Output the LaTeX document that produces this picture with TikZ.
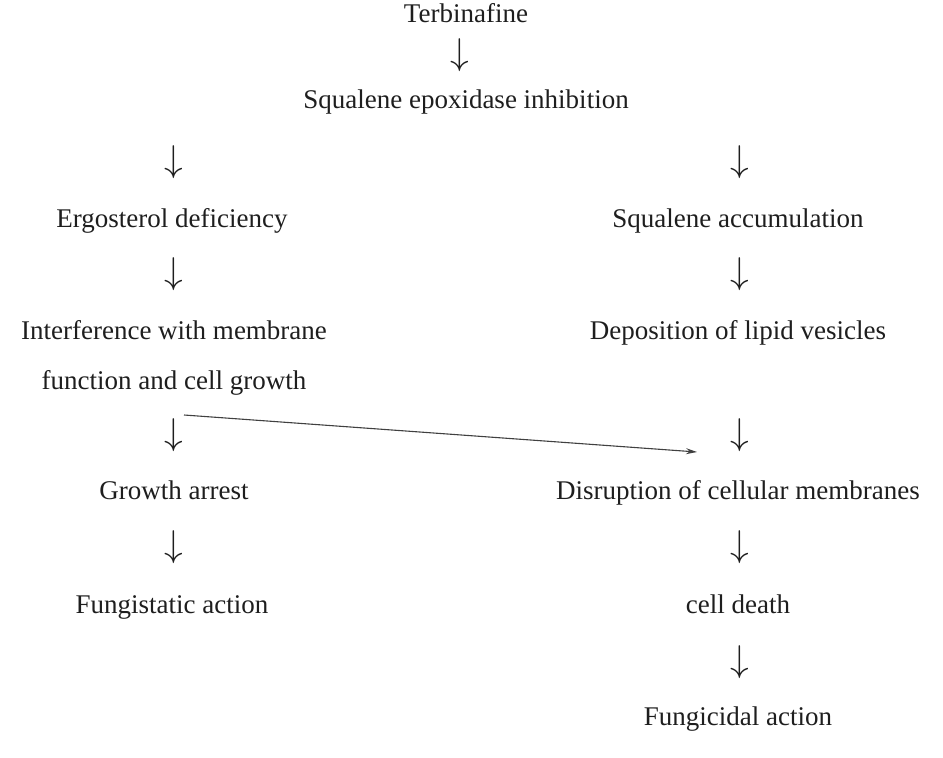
\documentclass[tikz,border=0pt]{standalone}
\usepackage{fontspec}
\setmainfont{Liberation Serif}
\usetikzlibrary{arrows.meta}
\definecolor{ink}{HTML}{1E1E1E}
\newcommand{\bigdown}{\scalebox{1.5}{\fontsize{24}{26}\selectfont$\downarrow$}}
\begin{document}
\begin{tikzpicture}[x=1pt,y=-1pt,
  lbl/.style={anchor=base, inner sep=0pt, font=\fontsize{27}{30}\selectfont, text=ink},
  darr/.style={inner sep=0pt, text=ink},
  link/.style={draw=ink!85, line width=1.1pt, -{Stealth[length=11pt,width=6pt]}}]
\useasboundingbox (0,0) rectangle (943,758);
\node[lbl] (terb) at (466,22) {Terbinafine};
\node[darr] (a1) at (460,55) {\bigdown};
\node[lbl] (sei) at (466,108) {Squalene epoxidase inhibition};
\node[darr] (aL1) at (174,162) {\bigdown};
\node[darr] (aR1) at (740,162) {\bigdown};
\node[lbl] (ergo) at (172,227) {Ergosterol deficiency};
\node[lbl] (sqacc) at (738,227) {Squalene accumulation};
\node[darr] (aL2) at (174,274) {\bigdown};
\node[darr] (aR2) at (740,274) {\bigdown};
\node[lbl] (interf) at (174,339) {Interference with membrane};
\node[lbl] (depo) at (738,339) {Deposition of lipid vesicles};
\node[lbl] (func) at (174,389) {function and cell growth};
\node[darr] (aL3) at (174,435) {\bigdown};
\node[darr] (aR3) at (740,435) {\bigdown};
\node[lbl] (arrest) at (174,499) {Growth arrest};
\node[lbl] (disr) at (738,499) {Disruption of cellular membranes};
\node[darr] (aL4) at (174,547) {\bigdown};
\node[darr] (aR4) at (740,547) {\bigdown};
\node[lbl] (fstat) at (172,613) {Fungistatic action};
\node[lbl] (death) at (738,613) {cell death};
\node[darr] (aR5) at (740,662) {\bigdown};
\node[lbl] (fcid) at (738,725) {Fungicidal action};
\coordinate (ls) at (184,415);
\coordinate (le) at (697,452);
\draw[link] (ls) -- (le);
\end{tikzpicture}
\end{document}
